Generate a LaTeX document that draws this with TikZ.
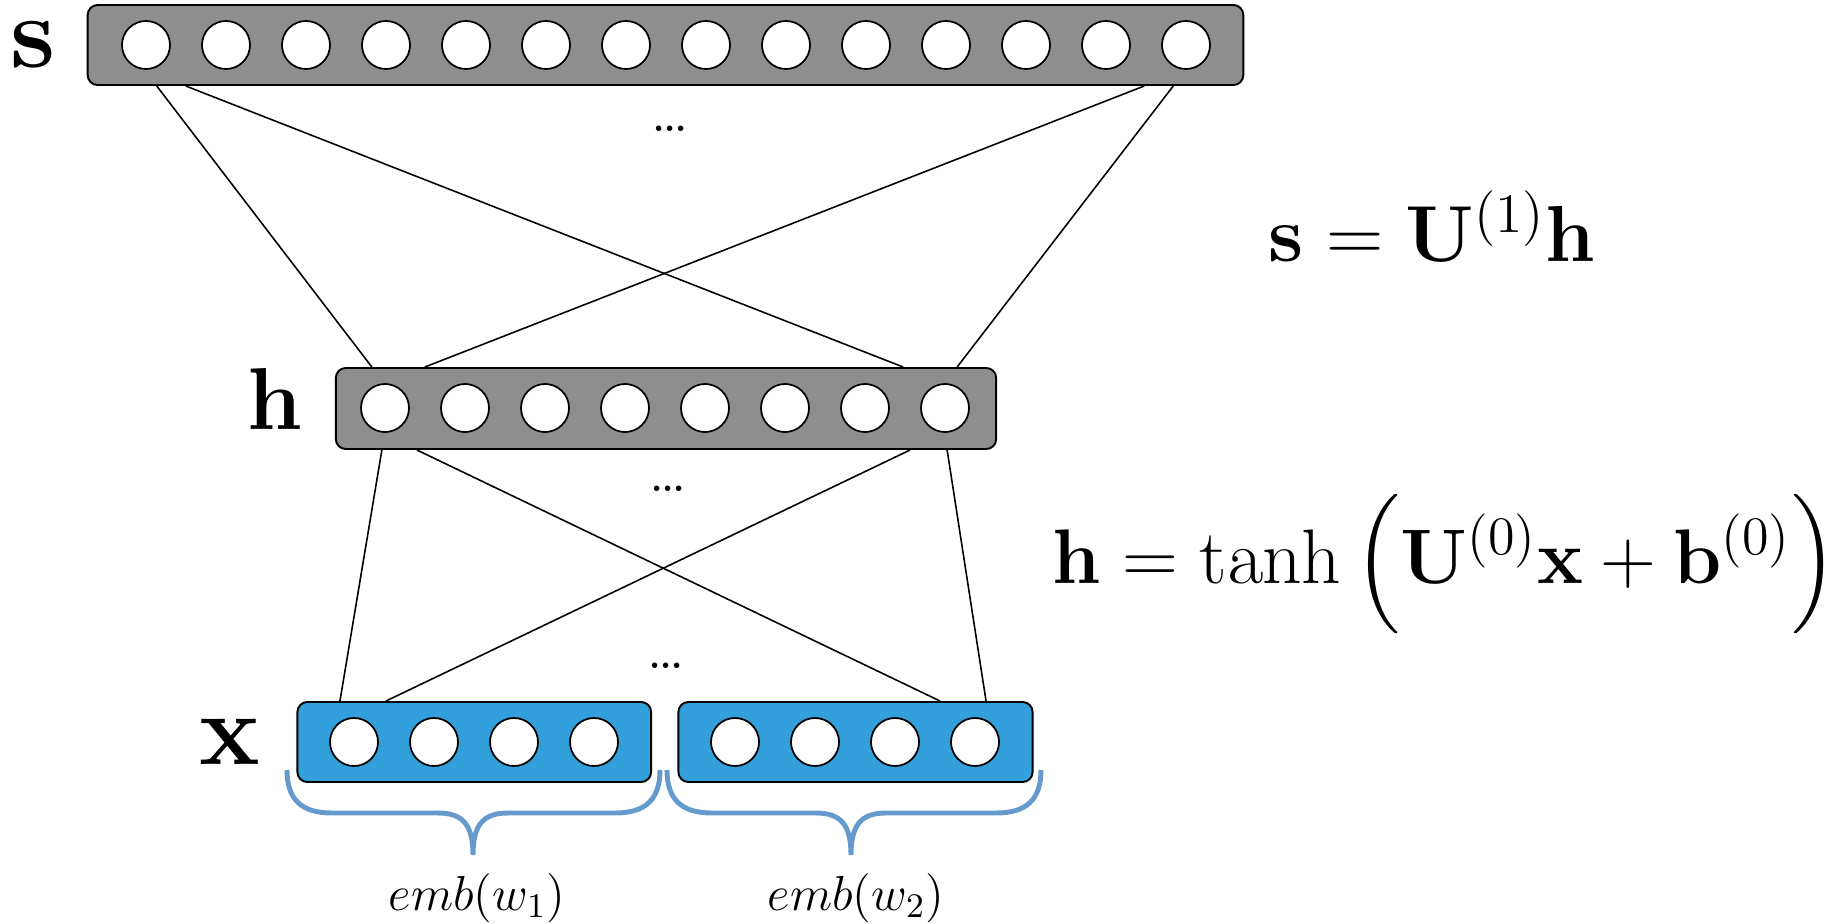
\RequirePackage{fix-cm}
\documentclass[tikz,border=0pt]{standalone}
\usepackage{amsmath,amssymb}
\usepackage{tikz}
\definecolor{unitgray}{RGB}{142,142,142}
\definecolor{embblue}{RGB}{51,160,219}
\definecolor{bracesteel}{RGB}{102,153,204}
\tikzset{
  nnbar/.style={draw=black,fill=unitgray,rounded corners=0.1cm,line width=0.55pt,inner sep=0pt},
  nnembbar/.style={nnbar,fill=embblue},
  nnunit/.style={circle,draw=black,fill=white,line width=0.5pt,minimum size=0.48cm,inner sep=0pt},
  nnlink/.style={line width=0.45pt},
  nnbrace/.style={draw=bracesteel,line width=1.4pt},
  nnlabel/.style={font=\fontsize{29}{34}\selectfont,inner sep=0pt},
  nnformula/.style={font=\fontsize{22.6}{27}\selectfont,anchor=base},
  nndots/.style={font=\bfseries,inner sep=0pt}
}
\begin{document}
\begin{tikzpicture}[x=0.01cm,y=-0.01cm]
  \useasboundingbox (0,0) rectangle (1848,924);
  % layers
  \node[nnbar,minimum width=11.55cm,minimum height=0.8cm] (sbar) at (665.5,45) {};
  \node[nnbar,minimum width=6.6cm,minimum height=0.81cm] (hbar) at (666,408.5) {};
  \node[nnembbar,minimum width=3.535cm,minimum height=0.8cm] (xbar1) at (474.25,742) {};
  \node[nnembbar,minimum width=3.54cm,minimum height=0.8cm] (xbar2) at (855.5,742) {};
  \foreach \i in {0,...,13}
    \node[nnunit] (s\i) at (146+80*\i,45) {};
  \foreach \i in {0,...,7}
    \node[nnunit] (h\i) at (385+80*\i,408) {};
  \foreach \i in {0,...,3} {
    \node[nnunit] (xa\i) at (354+80*\i,742) {};
    \node[nnunit] (xb\i) at (735+80*\i,742) {};
  }
  % weights
  \draw[nnlink] ([xshift=0.70cm]sbar.south west) -- ([xshift=0.37cm]hbar.north west);
  \draw[nnlink] ([xshift=0.99cm]sbar.south west) -- ([xshift=-0.94cm]hbar.north east);
  \draw[nnlink] ([xshift=-1.00cm]sbar.south east) -- ([xshift=0.90cm]hbar.north west);
  \draw[nnlink] ([xshift=-0.71cm]sbar.south east) -- ([xshift=-0.40cm]hbar.north east);
  \draw[nnlink] ([xshift=0.47cm]hbar.south west) -- ([xshift=0.435cm]xbar1.north west);
  \draw[nnlink] ([xshift=0.82cm]hbar.south west) -- ([xshift=-0.935cm]xbar2.north east);
  \draw[nnlink] ([xshift=-0.87cm]hbar.south east) -- ([xshift=0.895cm]xbar1.north west);
  \draw[nnlink] ([xshift=-0.50cm]hbar.south east) -- ([xshift=-0.475cm]xbar2.north east);
  \node[nndots] (sdots) at (670,129) {...};
  \node[nndots] (hdots) at (668,489) {...};
  \node[nndots] (xdots) at (666,666) {...};
  % labels
  \node[nnlabel] (slabel) at (33,45) {$\mathbf{s}$};
  \node[nnlabel,font=\fontsize{25}{30}\selectfont] (hlabel) at (275,399) {$\mathbf{h}$};
  \node[nnlabel] (xlabel) at (230,742) {$\mathbf{x}$};
  \node[nnformula] (seq) at (1432,261) {$\mathbf{s}=\mathbf{U}^{(1)}\mathbf{h}$};
  \node[nnformula,font=\fontsize{22}{26}\selectfont,anchor=base east,inner sep=0pt] (heq) at (1838,583)
    {$\mathbf{h}=\tanh\,\Bigl(\mathbf{U}^{(0)}\mathbf{x}+\mathbf{b}^{(0)}\Bigr)$};
  % embeddings
  \foreach \l/\t/\r in {287/473/660,667/851/1041}
    \draw[nnbrace] (\l,770) .. controls (\l,800) and (\l+15,813) .. (\l+45,813)
      -- (\t-35,813) .. controls (\t-10,813) and (\t,825) .. (\t,855)
      .. controls (\t,825) and (\t+10,813) .. (\t+35,813)
      -- (\r-45,813) .. controls (\r-15,813) and (\r,800) .. (\r,770);
  \node[font=\fontsize{14}{17}\selectfont,anchor=base] (emb1) at (477,910) {$emb(w_1)$};
  \node[font=\fontsize{14}{17}\selectfont,anchor=base] (emb2) at (856,910) {$emb(w_2)$};
\end{tikzpicture}
\end{document}
